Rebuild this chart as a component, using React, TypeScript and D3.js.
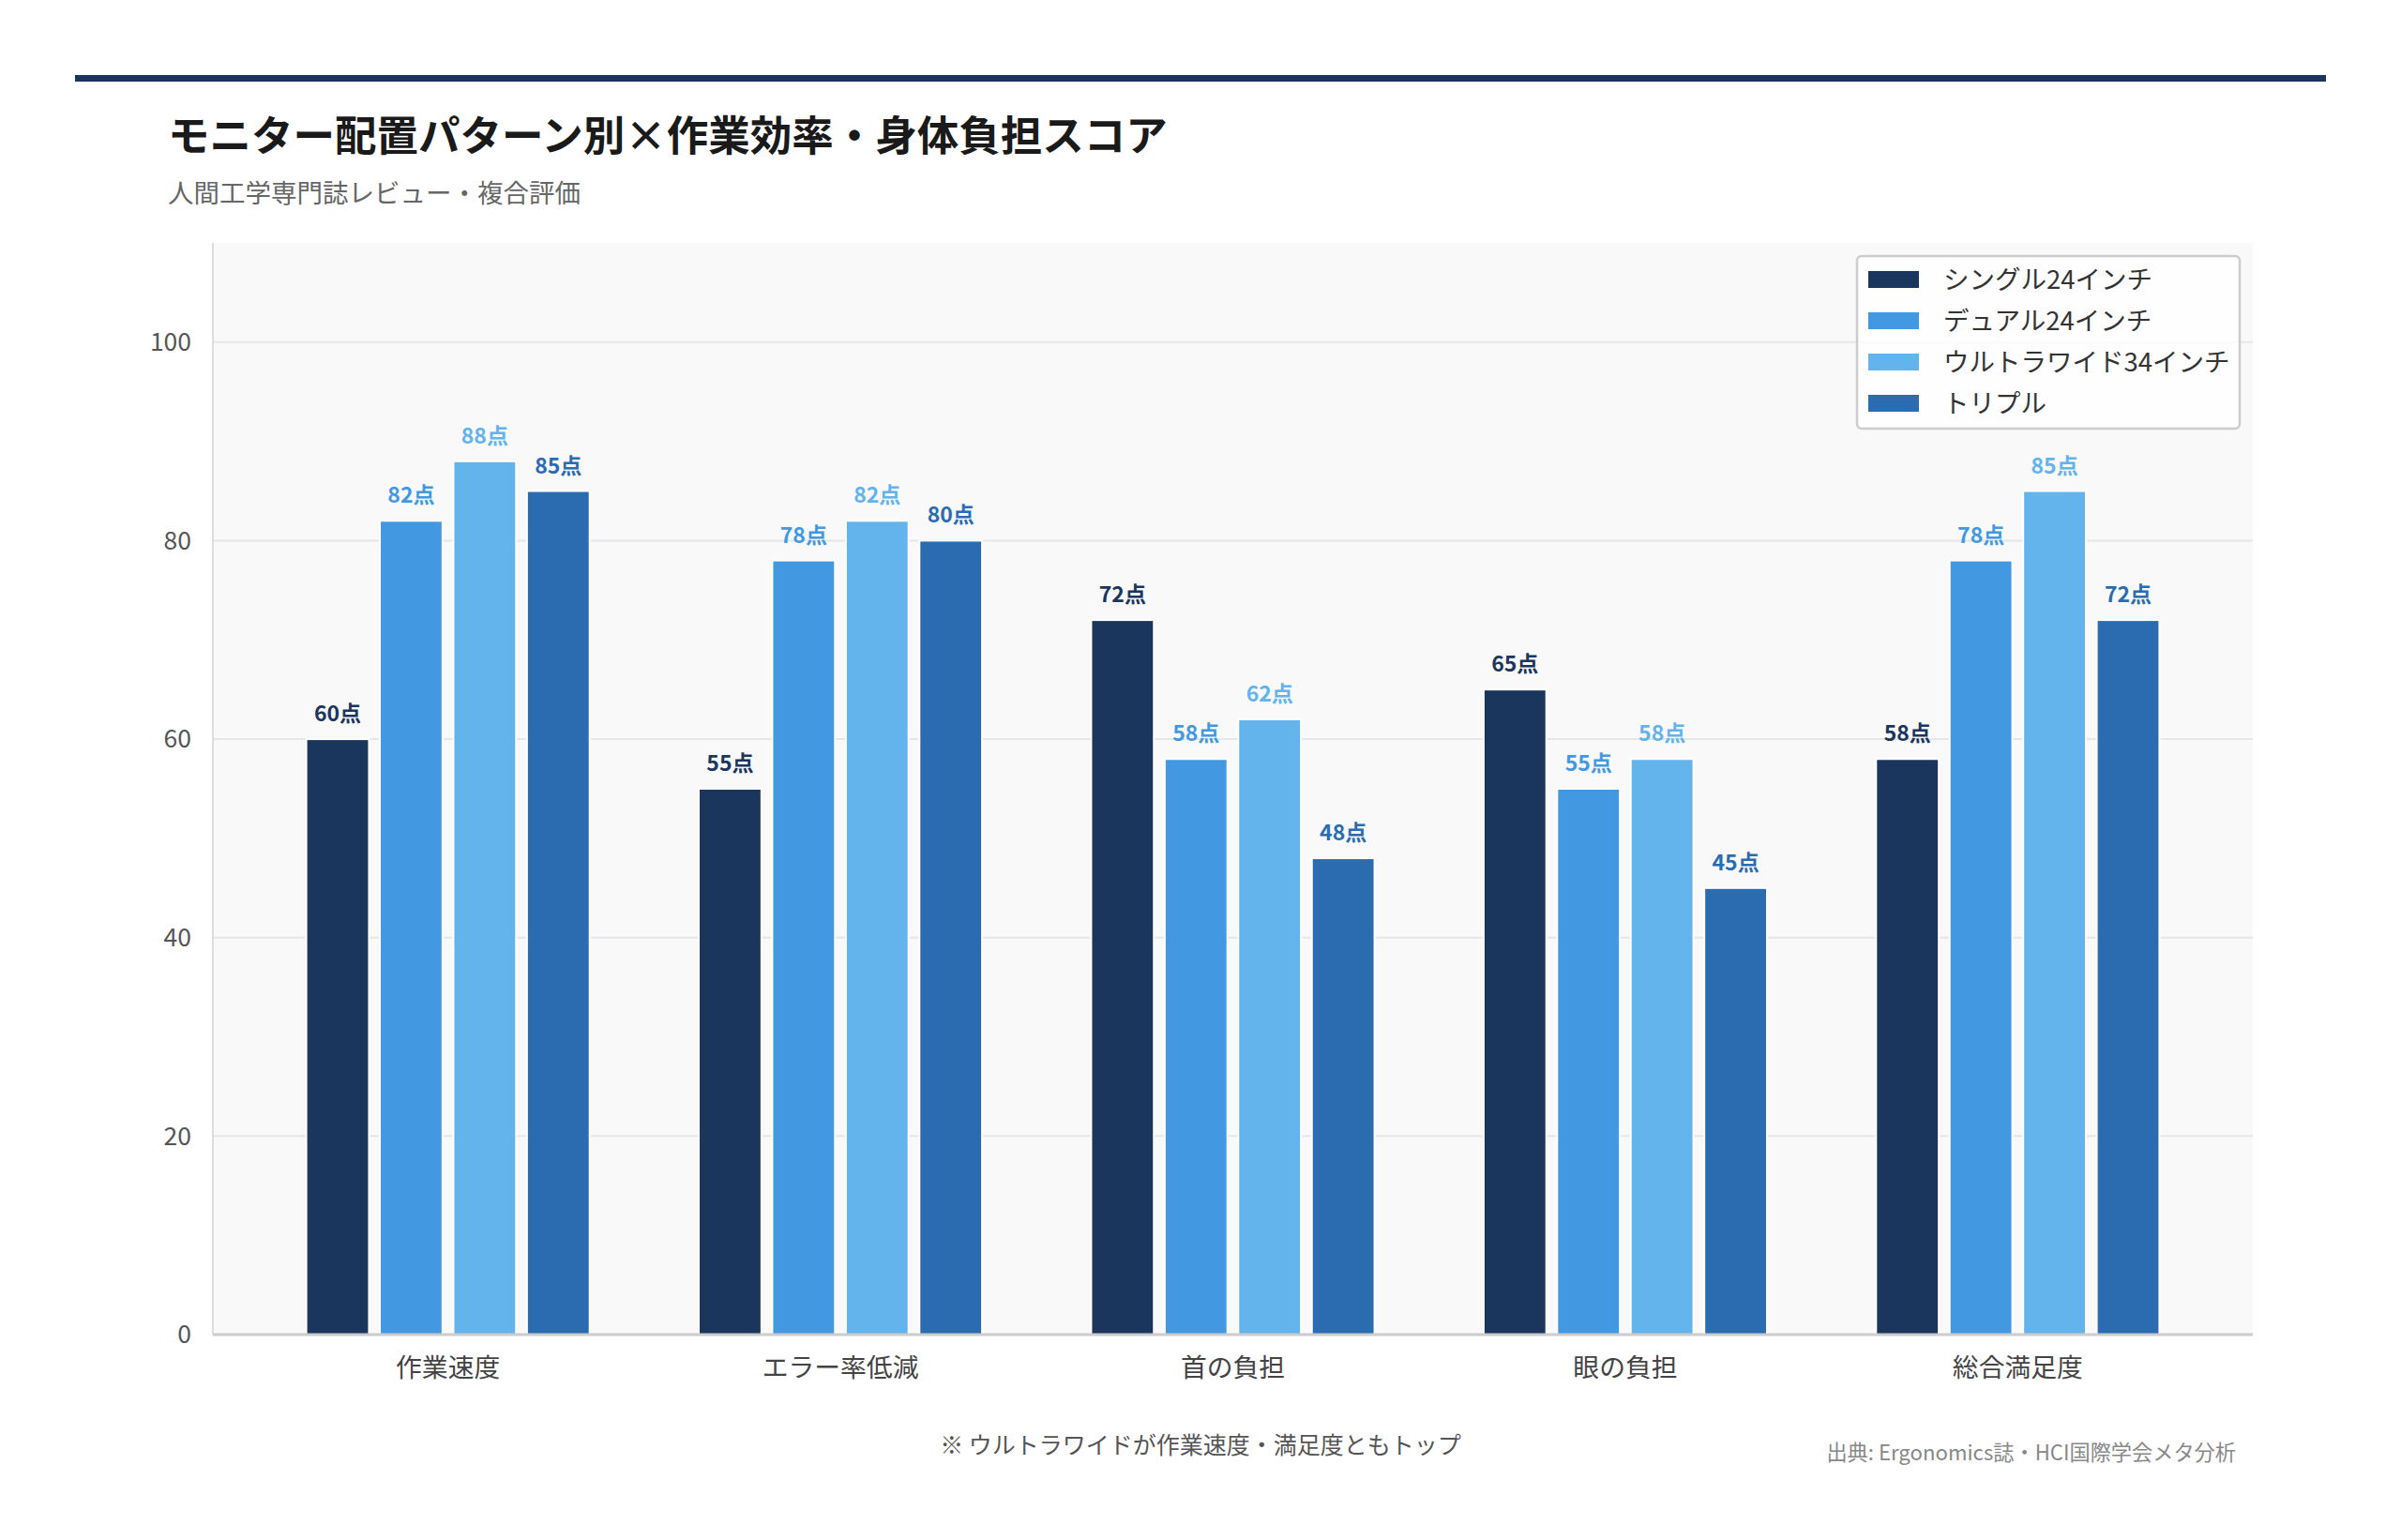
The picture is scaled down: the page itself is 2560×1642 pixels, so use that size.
import * as d3 from "d3";

const categories = ["作業速度", "エラー率低減", "首の負担", "眼の負担", "総合満足度"];
const seriesNames = ["シングル24インチ", "デュアル24インチ", "ウルトラワイド34インチ", "トリプル"];
const single24 = [60, 55, 72, 65, 58];
const dual24 = [82, 78, 58, 55, 78];
const ultrawide34 = [88, 82, 62, 58, 85];
const triple = [85, 80, 48, 45, 72];
const yTicks = [0, 20, 40, 60, 80, 100];

const seriesValues = [single24, dual24, ultrawide34, triple];
const colors = ["#1b365d", "#4299e1", "#63b3ed", "#2b6cb0"];

const W = 2560;
const H = 1642;
const plot = { left: 227, right: 2402, top: 259, bottom: 1423 };
const font = "'Noto Sans CJK JP', 'Noto Sans', sans-serif";

export default function App() {
  const x0 = d3
    .scaleBand<string>()
    .domain(categories)
    .range([plot.left, plot.right])
    .paddingInner(0.278)
    .paddingOuter(0.238);

  const x1 = d3
    .scaleBand<number>()
    .domain(d3.range(seriesNames.length))
    .range([0, x0.bandwidth()])
    .paddingInner(0.148);

  const y = d3.scaleLinear().domain([0, 110]).range([plot.bottom, plot.top]);

  const legendX = 1980;
  const legendY = 273;

  return (
    <div style={{ position: "absolute", left: 0, top: 0 }}>
      <svg width={W} height={H} style={{ display: "block", fontFamily: font }}>
        <rect width={W} height={H} fill="#ffffff" />
        <rect x={80} y={80} width={2400} height={7} fill="#1b365d" />

        <text x={179} y={161} fontSize={44.5} fontWeight={700} fill="#1a1a1a">
          モニター配置パターン別×作業効率・身体負担スコア
        </text>
        <text x={179} y={216} fontSize={27.5} fill="#666666">
          人間工学専門誌レビュー・複合評価
        </text>

        <rect
          x={plot.left}
          y={plot.top}
          width={plot.right - plot.left}
          height={plot.bottom - plot.top}
          fill="#f9f9f9"
        />

        {yTicks.map((t) => (
          <g key={t}>
            {t > 0 && (
              <line
                x1={plot.left}
                x2={plot.right}
                y1={y(t)}
                y2={y(t)}
                stroke="#e6e6e6"
                strokeWidth={2}
              />
            )}
            <text
              x={204}
              y={y(t)}
              dy="0.35em"
              textAnchor="end"
              fontSize={26.5}
              fill="#555555"
            >
              {t}
            </text>
          </g>
        ))}

        <line x1={plot.left} x2={plot.left} y1={plot.top} y2={plot.bottom} stroke="#dddddd" strokeWidth={2} />

        {categories.map((c, ci) => (
          <g key={c} transform={`translate(${x0(c)},0)`}>
            {seriesValues.map((vals, si) => {
              const v = vals[ci];
              const bx = x1(si) as number;
              return (
                <g key={si}>
                  <rect
                    x={bx}
                    y={y(v)}
                    width={x1.bandwidth()}
                    height={y(0) - y(v)}
                    fill={colors[si]}
                    stroke="#ffffff"
                    strokeWidth={2}
                  />
                  <text
                    x={bx + x1.bandwidth() / 2}
                    y={y(v) - 19}
                    textAnchor="middle"
                    fontSize={23}
                    fontWeight={700}
                    fill={colors[si]}
                  >
                    {v}点
                  </text>
                </g>
              );
            })}
          </g>
        ))}

        <line x1={plot.left} x2={plot.right} y1={plot.bottom} y2={plot.bottom} stroke="#cccccc" strokeWidth={3} />

        {categories.map((c) => (
          <text
            key={c}
            x={(x0(c) as number) + x0.bandwidth() / 2}
            y={1468}
            textAnchor="middle"
            fontSize={27.8}
            fill="#444444"
          >
            {c}
          </text>
        ))}

        <g transform={`translate(${legendX},${legendY})`}>
          <rect
            width={408}
            height={184}
            rx={5}
            fill="#ffffff"
            fillOpacity={0.8}
            stroke="#cccccc"
            strokeWidth={2.5}
          />
          {seriesNames.map((n, i) => (
            <g key={n} transform={`translate(0,${25 + i * 44})`}>
              <rect x={12} y={-9} width={54} height={18} fill={colors[i]} />
              <text x={92} y={0} dy="0.35em" fontSize={27.5} fill="#333333">
                {n}
              </text>
            </g>
          ))}
        </g>

        <text x={1280} y={1550} textAnchor="middle" fontSize={25} fill="#555555">
          ※ ウルトラワイドが作業速度・満足度ともトップ
        </text>
        <text x={2384} y={1557} textAnchor="end" fontSize={22.2} fill="#888888">
          出典: Ergonomics誌・HCI国際学会メタ分析
        </text>
      </svg>
    </div>
  );
}
